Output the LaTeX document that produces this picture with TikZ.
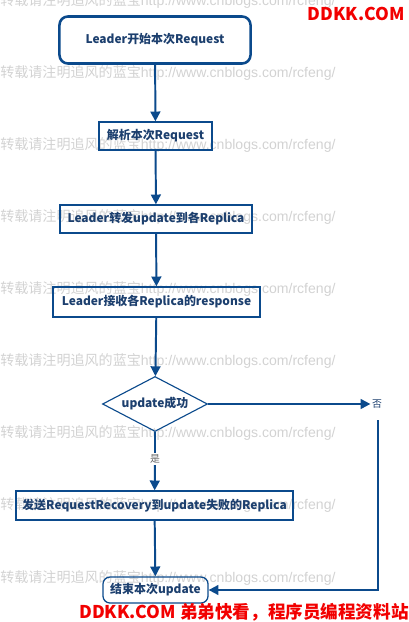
\documentclass[tikz,border=0pt]{standalone}
\usepackage{fontspec}
\usepackage{tikz}
\usetikzlibrary{positioning,arrows.meta,shapes.geometric}
\setmainfont{Noto Sans CJK SC}
\newfontfamily\arialfont{Liberation Sans}
\definecolor{flowline}{HTML}{0B4A8C}
\definecolor{flowtext}{HTML}{1C3F6E}
\definecolor{wmgray}{HTML}{D2D2D2}
\definecolor{adred}{HTML}{F20000}

\tikzset{
  proc/.style={draw=flowline, line width=0.9pt, text=flowtext, inner sep=0pt,
    font=\fontsize{8.5}{10}\selectfont\bfseries},
  flow/.style={draw=flowline, line width=1.4pt, -{Triangle[length=7pt,width=7pt]}},
  wmark/.style={text=wmgray, anchor=west, inner sep=0pt, font=\fontsize{10}{12}\selectfont},
  branch/.style={inner sep=1pt, font=\fontsize{7}{8}\selectfont},
}

\begin{document}
\begin{tikzpicture}[x=0.025cm,y=-0.025cm]
\useasboundingbox (0,0) rectangle (408,622);
% watermark rows
\foreach \y [count=\i] in {1,73,145,217,289,361,433,505,578}
  \node[wmark] (wm\i) at (0,\y) {转载请注明追风的蓝宝{\arialfont http://www.cnblogs.com/rcfeng/}};
\node[text=adred, inner sep=0pt, font=\fontsize{12.5}{14}\selectfont\bfseries] (adtop) at (356,14) {DDKK.COM};

% flow chart
\node[proc, rounded corners=6pt, line width=1.8pt, minimum width=4.775cm, minimum height=1.175cm] (start) at (155,40) {Leader开始本次Request};
\node[proc, minimum width=2.825cm, minimum height=0.7cm] (parse) at (155.5,136) {解析本次Request};
\node[proc, minimum width=4.8cm, minimum height=0.7cm] (fwd) at (156,219) {Leader转发update到各Replica};
\node[proc, minimum width=5.175cm, minimum height=0.75cm] (recv) at (156.5,302) {Leader接收各Replica的response};
\node[proc, diamond, aspect=2, line width=0.8pt, minimum width=2.625cm, minimum height=1.375cm] (dec) at (155,404) {update成功};
\node[branch, text=flowtext] (no) at (377,404) {否};
\node[branch, text=black!60] (yes) at (155,459) {是};
\node[proc, minimum width=6.925cm, minimum height=0.725cm] (recover) at (154.5,505.5) {发送RequestRecovery到update失败的Replica};
\node[proc, rounded corners=5pt, minimum width=2.625cm, minimum height=0.65cm] (finish) at (155.5,590) {结束本次update};
\coordinate (back) at (378,420);

\draw[flow] (start) -- (parse);
\draw[flow] (parse) -- (fwd);
\draw[flow] (fwd) -- (recv);
\draw[flow] (recv) -- (dec);
\draw[flow] (dec) -- (no);
\draw[flowline, line width=1.4pt] (dec.south) -- (yes);
\draw[flow] (yes) -- (recover);
\draw[flow] (recover) -- (finish);
\draw[flow] (back) |- (finish.east);

\node[text=adred, inner sep=0pt, font=\fontsize{12.5}{14}\selectfont\bfseries] (adbottom) at (244,612) {DDKK.COM 弟弟快看，程序员编程资料站};
\end{tikzpicture}
\end{document}
